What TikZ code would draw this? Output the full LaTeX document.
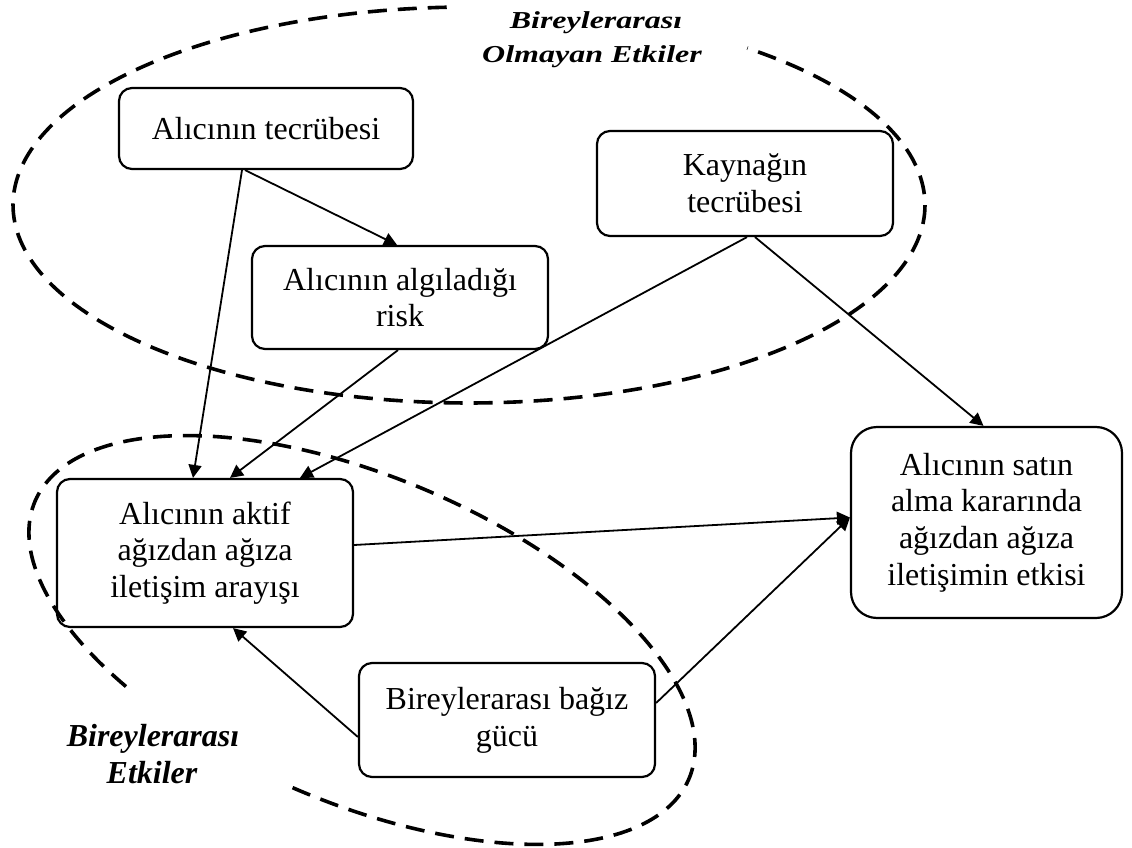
\documentclass[tikz,border=0pt]{standalone}
\usepackage{fontspec}
\usepackage{graphicx}
\setmainfont{Liberation Serif}
\usetikzlibrary{arrows.meta}
\begin{document}
\begin{tikzpicture}[x=1pt,y=-1pt,
  box/.style={draw, line width=2.2pt, rounded corners=13pt, align=center,
    inner sep=0pt, font=\fontsize{32}{36.8}\selectfont},
  conn/.style={line width=1.8pt, -{Triangle[length=13pt,width=13pt]}},
  region/.style={line width=3.6pt, dash pattern=on 19pt off 11pt},
  grouplabel/.style={font=\fontsize{32}{36.8}\selectfont\bfseries\itshape,
    inner sep=0pt, anchor=base}]
\useasboundingbox (0,0) rectangle (1132,848);

% group outlines
\draw[region] plot[domain=92.8:412.4, samples=240]
  ({469+456*cos(\x)}, {205-198*sin(\x)});
\draw[region] plot[domain=269:596, samples=240]
  ({362+326.96*cos(\x)+63.73*sin(\x)}, {640+138.8*cos(\x)-150.1*sin(\x)});

% group labels
\node[grouplabel] (t1) at (596,29) {\scalebox{1}[0.76]{Bireylerarası}};
\node[grouplabel] (t2) at (592,63) {\scalebox{1}[0.76]{Olmayan Etkiler}};
\node[grouplabel] (b1) at (153,746) {Bireylerarası};
\node[grouplabel] (b2) at (152,783) {Etkiler};

% factors
\node[box, minimum width=294pt, minimum height=81pt]  (A) at (266,128.5) {Alıcının tecrübesi};
\node[box, minimum width=296pt, minimum height=103pt] (B) at (400,297.5) {Alıcının algıladığı\\risk};
\node[box, minimum width=296pt, minimum height=105pt] (C) at (745,183.5) {Kaynağın\\tecrübesi};
\node[box, minimum width=296pt, minimum height=148pt] (D) at (205,553) {Alıcının aktif\\ağızdan ağıza\\iletişim arayışı};
\node[box, minimum width=296pt, minimum height=114pt] (E) at (507,720) {Bireylerarası bağız\\gücü};
\node[box, rounded corners=26pt, minimum width=271pt, minimum height=191pt] (F) at (986.5,522.5)
  {Alıcının satın\\alma kararında\\ağızdan ağıza\\iletişimin etkisi};

% relations
\draw[conn] ([xshift=-24pt]A.south) -- ([xshift=-12pt]D.north);
\draw[conn] ([xshift=-21pt]A.south) -- ([xshift=-3pt]B.north);
\draw[conn] ([xshift=-2pt]B.south) -- ([xshift=25pt]D.north);
\draw[conn] ([xshift=2pt]C.south) -- ([xshift=95pt]D.north);
\draw[conn] ([xshift=10pt]C.south) -- ([xshift=-3pt]F.north);
\draw[conn] ([yshift=8pt]D.east) -- ([yshift=5pt]F.west);
\draw[conn] ([yshift=17pt]E.east) -- ([yshift=5pt]F.west);
\draw[conn] ([yshift=-17pt]E.west) -- ([xshift=28pt]D.south);
\end{tikzpicture}
\end{document}
